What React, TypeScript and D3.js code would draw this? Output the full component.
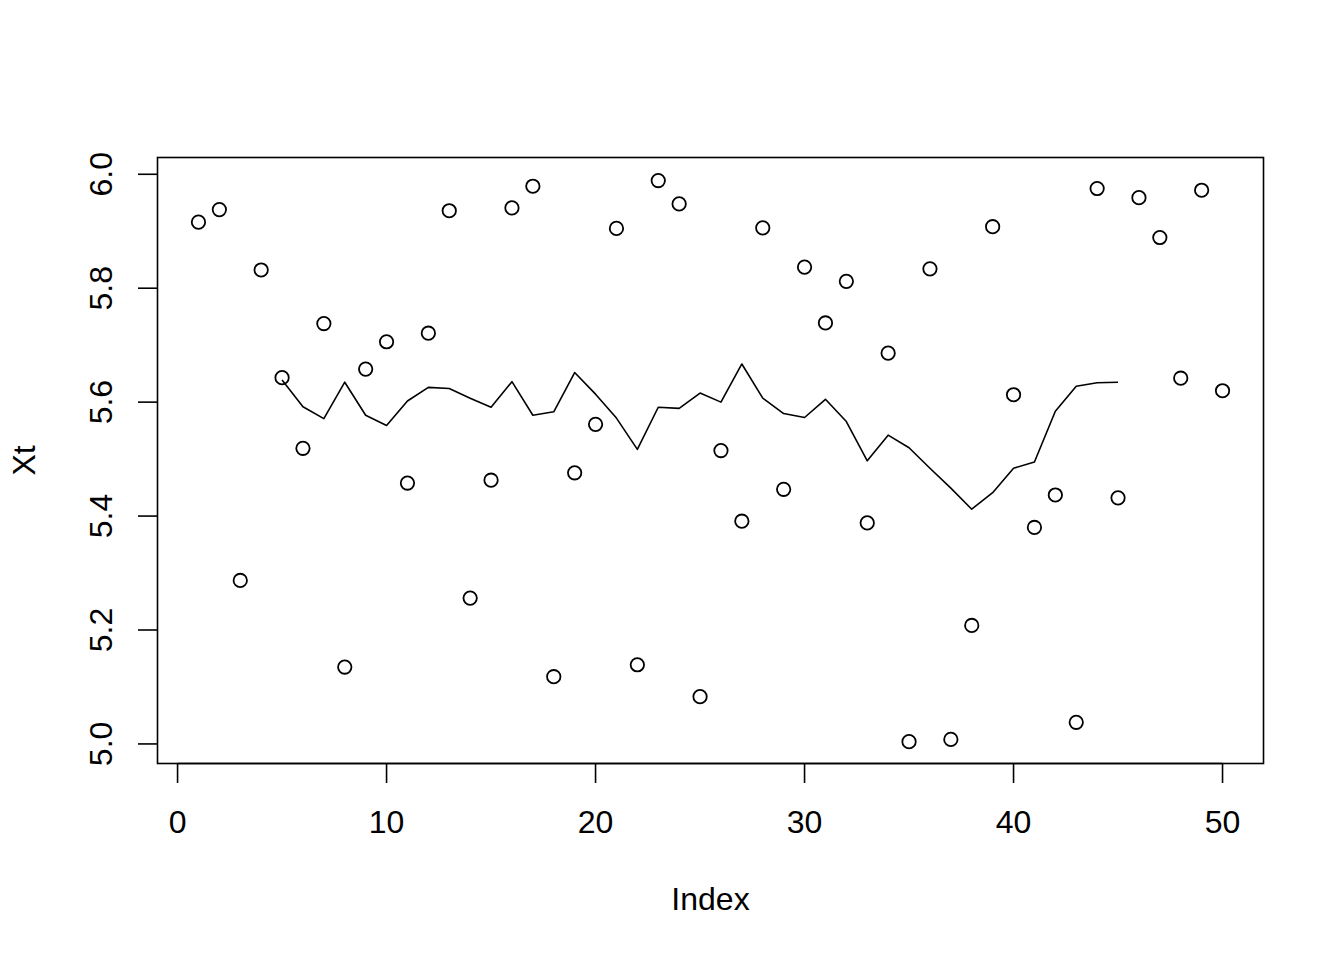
import React from "react";
import * as d3 from "d3";

const xtValues: number[] = [
  5.916, 5.938, 5.287, 5.832, 5.643, 5.519, 5.738, 5.135, 5.658, 5.706,
  5.458, 5.721, 5.936, 5.256, 5.463, 5.941, 5.979, 5.118, 5.476, 5.561,
  5.905, 5.139, 5.989, 5.948, 5.083, 5.515, 5.391, 5.906, 5.447, 5.837,
  5.739, 5.812, 5.388, 5.686, 5.004, 5.834, 5.008, 5.208, 5.908, 5.613,
  5.380, 5.437, 5.038, 5.975, 5.432, 5.959, 5.889, 5.642, 5.972, 5.620,
];

const smoothStart = 5;
const smoothValues: number[] = [
  5.639, 5.592, 5.571, 5.635, 5.577, 5.559, 5.602, 5.626, 5.624, 5.607,
  5.591, 5.636, 5.577, 5.583, 5.652, 5.614, 5.572, 5.517, 5.591, 5.589,
  5.616, 5.600, 5.667, 5.607, 5.580, 5.573, 5.605, 5.566, 5.497, 5.542,
  5.520, 5.484, 5.449, 5.412, 5.441, 5.484, 5.495, 5.584, 5.628, 5.634,
  5.635,
];

const xTicks: number[] = [0, 10, 20, 30, 40, 50];
const yTicks: number[] = [5.0, 5.2, 5.4, 5.6, 5.8, 6.0];
const xLabel = "Index";
const yLabel = "Xt";

const W = 1344;
const H = 960;
const L = 157.5;
const R = 1263.5;
const T = 157.5;
const B = 763.5;
const FONT = "'Liberation Sans', Arial, Helvetica, sans-serif";
const FS = 32;

export default function App() {
  const n = xtValues.length;
  const xPad = (n - 1) * 0.04;
  const x = d3.scaleLinear().domain([1 - xPad, n + xPad]).range([L, R]);
  const [ymin, ymax] = d3.extent(xtValues) as [number, number];
  const yPad = (ymax - ymin) * 0.04;
  const y = d3.scaleLinear().domain([ymin - yPad, ymax + yPad]).range([B + 0.6, T + 0.6]);

  const lineGen = d3
    .line<number>()
    .x((_, i) => x(i + smoothStart))
    .y((d) => y(d));

  const tickLen = 19.5;
  const yTickLabelX = 111.5;
  const sw = 1.6;

  return (
    <svg
      width={W}
      height={H}
      style={{ position: "absolute", left: 0, top: 0, background: "#fff" }}
      fontFamily={FONT}
    >
      <rect x={0} y={0} width={W} height={H} fill="#fff" />
      <rect x={L} y={T} width={R - L} height={B - T} fill="none" stroke="#000" strokeWidth={sw} />

      {/* x axis */}
      <line x1={x(xTicks[0])} x2={x(xTicks[xTicks.length - 1])} y1={B} y2={B} stroke="#000" strokeWidth={sw} />
      {xTicks.map((t) => (
        <g key={"xt" + t}>
          <line x1={x(t)} x2={x(t)} y1={B} y2={B + tickLen} stroke="#000" strokeWidth={sw} />
          <text x={x(t)} y={833.3} fontSize={FS} textAnchor="middle" fill="#000">
            {t}
          </text>
        </g>
      ))}

      {/* y axis */}
      {yTicks.map((t) => (
        <g key={"yt" + t}>
          <line x1={L - tickLen} x2={L} y1={y(t)} y2={y(t)} stroke="#000" strokeWidth={sw} />
          <text
            transform={`translate(${yTickLabelX},${y(t)}) rotate(-90)`}
            fontSize={FS}
            textAnchor="middle"
            fill="#000"
          >
            {t.toFixed(1)}
          </text>
        </g>
      ))}

      <text x={(L + R) / 2} y={910} fontSize={FS} textAnchor="middle" fill="#000">
        {xLabel}
      </text>
      <text
        transform={`translate(35,${(T + B) / 2}) rotate(-90)`}
        fontSize={FS}
        textAnchor="middle"
        fill="#000"
      >
        {yLabel}
      </text>

      {/* points */}
      {xtValues.map((v, i) => (
        <circle key={"p" + i} cx={x(i + 1)} cy={y(v)} r={6.7} fill="none" stroke="#000" strokeWidth={1.8} />
      ))}

      {/* smoothed line */}
      <path d={lineGen(smoothValues) || ""} fill="none" stroke="#000" strokeWidth={1.6} strokeLinejoin="round" />
    </svg>
  );
}
